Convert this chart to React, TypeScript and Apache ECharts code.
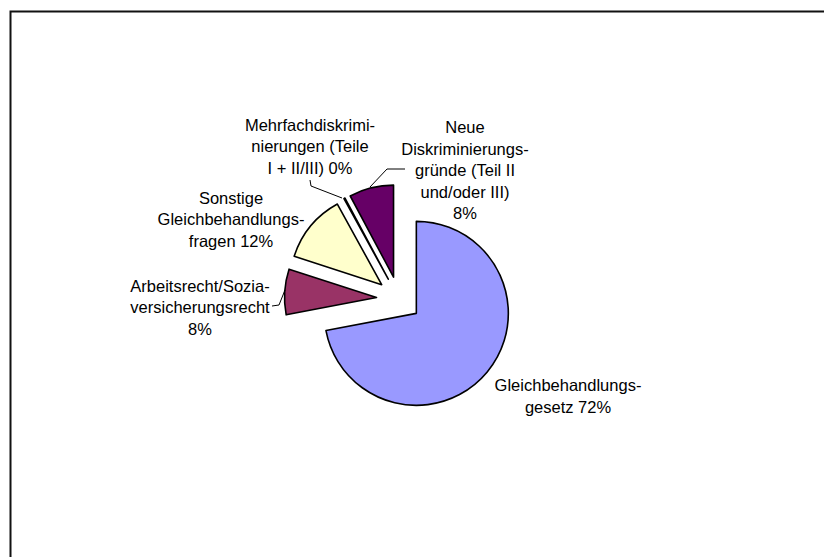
import React, { useEffect, useRef } from "react";
import * as echarts from "echarts";

const categories = [
  "Gleichbehandlungsgesetz",
  "Arbeitsrecht/Sozialversicherungsrecht",
  "Sonstige Gleichbehandlungsfragen",
  "Mehrfachdiskriminierungen (Teile I + II/III)",
  "Neue Diskriminierungsgründe (Teil II und/oder III)",
];
const values = [72, 8, 12, 0.2, 7.8];
const labelTexts = [
  "Gleichbehandlungs-\ngesetz {p}",
  "Arbeitsrecht/Sozia-\nversicherungsrecht\n{p}",
  "Sonstige\nGleichbehandlungs-\nfragen {p}",
  "Mehrfachdiskrimi-\nnierungen (Teile\nI + II/III) {p}",
  "Neue\nDiskriminierungs-\ngründe (Teil II\nund/oder III)\n{p}",
];
const colors = ["#9999FF", "#993366", "#FFFFCC", "#FFFFFF", "#660066"];

// layout of label blocks (centres) and leader lines
const labelPos: [number, number][] = [
  [568, 396],
  [200, 307],
  [231, 219],
  [310, 146],
  [465, 170],
];
const leaderLines: (number[][] | null)[] = [
  null,
  [[285, 290], [279, 305], [272, 306]],
  null,
  [[342, 198], [311, 186], [310, 180]],
  [[370, 187], [387, 169], [405, 169]],
];

export default function App() {
  const ref = useRef<HTMLDivElement>(null);
  useEffect(() => {
    const chart = echarts.init(ref.current!, null, { renderer: "svg" });
    const font = "'Liberation Sans', Arial, sans-serif";
    const total = values.reduce((a, b) => a + b, 0);
    const labels: any[] = values.map((v, i) => ({
      type: "text",
      x: labelPos[i][0],
      y: labelPos[i][1],
      silent: true,
      z: 10,
      style: {
        text: labelTexts[i].replace("{p}", Math.round((v / total) * 100) + "%"),
        fill: "#000",
        fontSize: 16.5,
        fontFamily: font,
        lineHeight: 21.5,
        align: "center",
        verticalAlign: "middle",
      },
    }));
    const lines: any[] = leaderLines
      .filter((l) => l !== null)
      .map((l) => ({
        type: "polyline",
        silent: true,
        z: 10,
        shape: { points: l },
        style: { stroke: "#000", lineWidth: 1, fill: "none" },
      }));
    chart.setOption({
      animation: false,
      backgroundColor: "#ffffff",
      graphic: [
        {
          type: "rect",
          shape: { x: 10.5, y: 11.5, width: 830, height: 560 },
          style: { fill: "none", stroke: "#111", lineWidth: 2 },
          silent: true,
        },
        ...labels,
        ...lines,
      ],
      series: [
        {
          type: "pie",
          center: [399, 299],
          radius: 92,
          startAngle: 90,
          clockwise: true,
          selectedMode: "multiple",
          selectedOffset: 22.5,
          emphasis: { disabled: true },
          itemStyle: { borderColor: "#000", borderWidth: 1.6 },
          select: { itemStyle: { borderColor: "#000", borderWidth: 1.6 } },
          label: { show: false },
          labelLine: { show: false },
          data: categories.map((name, i) => ({
            name,
            value: values[i],
            selected: true,
            itemStyle: { color: colors[i] },
            select: { itemStyle: { color: colors[i] } },
          })),
        },
      ],
    });
    return () => chart.dispose();
  }, []);
  return (
    <div
      ref={ref}
      style={{ position: "fixed", left: 0, top: 0, width: 824, height: 557 }}
    />
  );
}
